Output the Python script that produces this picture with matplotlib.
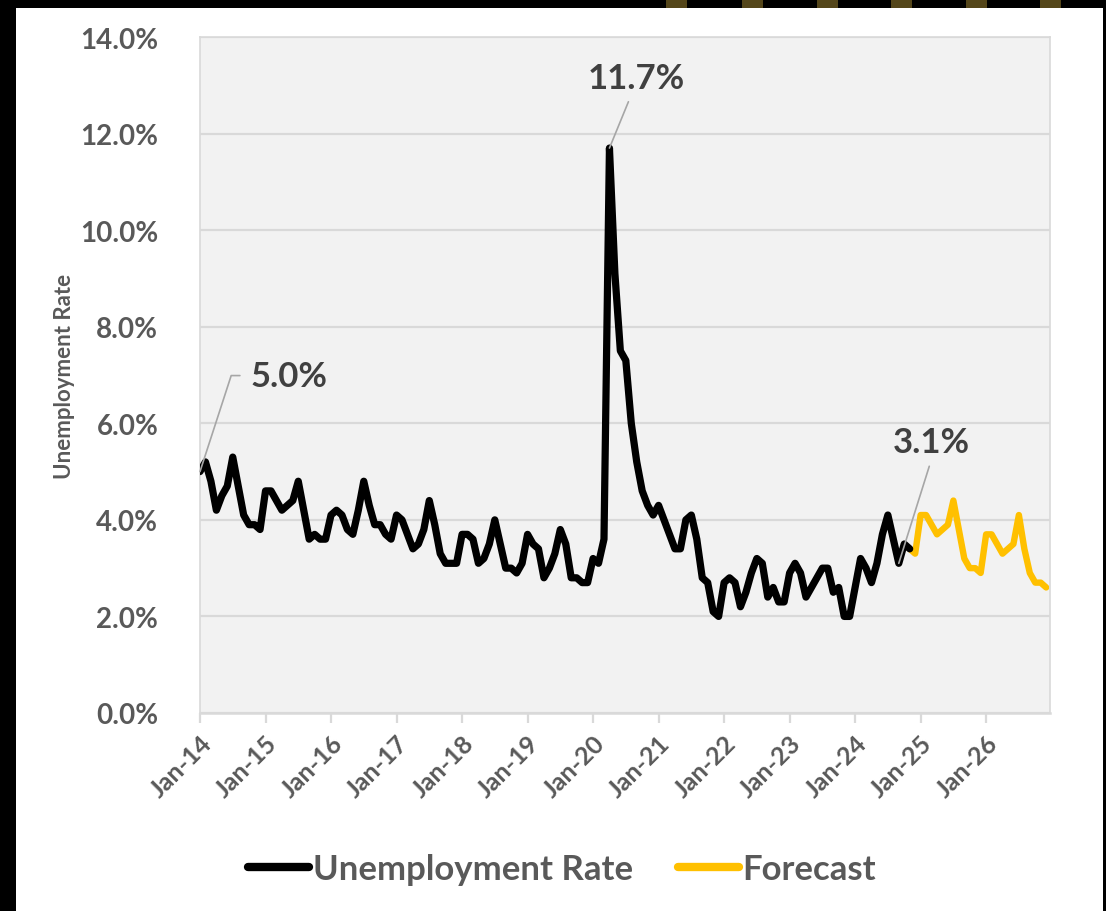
import matplotlib
matplotlib.use("Agg")
import matplotlib.pyplot as plt
from matplotlib.patches import Rectangle
from matplotlib.transforms import ScaledTranslation

plt.rcParams['font.family'] = ['Lato', 'DejaVu Sans']

# ---------------- data ----------------
# monthly unemployment rate, Jan-14 .. Nov-24
actual = [
    5.0, 5.2, 4.8, 4.2, 4.5, 4.7, 5.3, 4.7, 4.1, 3.9, 3.9, 3.8,   # 2014
    4.6, 4.6, 4.4, 4.2, 4.3, 4.4, 4.8, 4.2, 3.6, 3.7, 3.6, 3.6,   # 2015
    4.1, 4.2, 4.1, 3.8, 3.7, 4.2, 4.8, 4.3, 3.9, 3.9, 3.7, 3.6,   # 2016
    4.1, 4.0, 3.7, 3.4, 3.5, 3.8, 4.4, 3.9, 3.3, 3.1, 3.1, 3.1,   # 2017
    3.7, 3.7, 3.6, 3.1, 3.2, 3.5, 4.0, 3.5, 3.0, 3.0, 2.9, 3.1,   # 2018
    3.7, 3.5, 3.4, 2.8, 3.0, 3.3, 3.8, 3.5, 2.8, 2.8, 2.7, 2.7,   # 2019
    3.2, 3.1, 3.6, 11.7, 9.1, 7.5, 7.3, 6.0, 5.2, 4.6, 4.3, 4.1,  # 2020
    4.3, 4.0, 3.7, 3.4, 3.4, 4.0, 4.1, 3.6, 2.8, 2.7, 2.1, 2.0,   # 2021
    2.7, 2.8, 2.7, 2.2, 2.5, 2.9, 3.2, 3.1, 2.4, 2.6, 2.3, 2.3,   # 2022
    2.9, 3.1, 2.9, 2.4, 2.6, 2.8, 3.0, 3.0, 2.5, 2.6, 2.0, 2.0,   # 2023
    2.6, 3.2, 3.0, 2.7, 3.1, 3.7, 4.1, 3.6, 3.1, 3.5, 3.4,        # 2024
]
# forecast, Nov-24 .. Dec-26
forecast_start = 130
forecast = [
    3.4, 3.3,
    4.1, 4.1, 3.9, 3.7, 3.8, 3.9, 4.4, 3.8, 3.2, 3.0, 3.0, 2.9,   # 2025
    3.7, 3.7, 3.5, 3.3, 3.4, 3.5, 4.1, 3.4, 2.9, 2.7, 2.7, 2.6,   # 2026
]
tick_labels = ['Jan-14', 'Jan-15', 'Jan-16', 'Jan-17', 'Jan-18', 'Jan-19', 'Jan-20',
               'Jan-21', 'Jan-22', 'Jan-23', 'Jan-24', 'Jan-25', 'Jan-26']
y_ticks = [0, 2, 4, 6, 8, 10, 12, 14]

x_actual = list(range(len(actual)))
x_fore = list(range(forecast_start, forecast_start + len(forecast)))

# ---------------- figure ----------------
W, H = 1106, 912
fig = plt.figure(figsize=(W / 100, H / 100), dpi=100, facecolor='white')

# screenshot frame (black edges + olive marks at top)
fig.patches.append(Rectangle((0, 0), 16 / W, 1, transform=fig.transFigure,
                             facecolor='black', edgecolor='none', zorder=-5))
fig.patches.append(Rectangle((0, 1 - 9 / H), 1, 9 / H, transform=fig.transFigure,
                             facecolor='black', edgecolor='none', zorder=-5))
fig.patches.append(Rectangle((1103 / W, 0), 3 / W, 1, transform=fig.transFigure,
                             facecolor='black', edgecolor='none', zorder=-5))
for x0 in [666, 742, 817, 891, 966, 1040]:
    fig.patches.append(Rectangle((x0 / W, 1 - 9 / H), 21 / W, 9 / H,
                                 transform=fig.transFigure,
                                 facecolor='#54461a', edgecolor='none', zorder=-4))

ax = fig.add_axes([200 / W, 1 - 714 / H, 850 / W, 676 / H])
ax.set_facecolor('#f2f2f2')

grid_c = '#d9d9d9'
txt_c = '#595959'

ax.plot(x_actual, actual, color='black', lw=5.2, solid_joinstyle='round',
        solid_capstyle='round', label='Unemployment Rate', zorder=3)
ax.plot(x_fore, forecast, color='#FFC000', lw=4.6, solid_joinstyle='round',
        solid_capstyle='round', label='Forecast', zorder=2)

ax.set_xlim(0, 155.7)
ax.set_ylim(0, 14)
ax.set_yticks(y_ticks)
ax.set_yticklabels([f'{v:.1f}%' for v in y_ticks])
ax.set_xticks(list(range(0, 12 * len(tick_labels), 12)))
ax.set_xticklabels(tick_labels, rotation=45, ha='right', va='center',
                   rotation_mode='anchor')

ax.yaxis.grid(True, color=grid_c, lw=1.6)
ax.set_axisbelow(True)
for s in ['top', 'right', 'left']:
    ax.spines[s].set_color(grid_c)
    ax.spines[s].set_linewidth(1.2)
ax.spines['bottom'].set_color(grid_c)
ax.spines['bottom'].set_linewidth(1.8)

ax.tick_params(axis='y', length=0, pad=30, labelsize=20, labelcolor=txt_c)
ax.tick_params(axis='x', length=7, width=1.6, color=grid_c, pad=12,
               labelsize=18, labelcolor=txt_c)
shift = ScaledTranslation(8 / 100, 0, fig.dpi_scale_trans)
for lab in ax.get_xticklabels():
    lab.set_fontweight('bold')
    lab.set_transform(lab.get_transform() + shift)
for lab in ax.get_yticklabels():
    lab.set_fontweight('bold')

ax.set_ylabel('Unemployment Rate', fontsize=16, fontweight='bold', color=txt_c)
ax.yaxis.set_label_coords(-0.147, 0.5)

# ---------------- data labels ----------------
ann_c = '#404040'
lead_c = '#a6a6a6'
# 5.0% at first point
i0 = 0
ax.annotate(f'{actual[i0]:.1f}%', xy=(x_actual[i0], actual[i0]), xycoords='data',
            xytext=(51, 96), textcoords='offset pixels', ha='left', va='center',
            fontsize=25, fontweight='bold', color=ann_c,
            arrowprops=dict(arrowstyle='-', color=lead_c, lw=1.2, relpos=(0, 0.5),
                            patchA=None, shrinkA=8, shrinkB=0,
                            connectionstyle='angle,angleA=0,angleB=72'))
# peak
ip = actual.index(max(actual))
ax.annotate(f'{actual[ip]:.1f}%', xy=(x_actual[ip], actual[ip]), xycoords='data',
            xytext=(27, 70), textcoords='offset pixels', ha='center', va='center',
            fontsize=25, fontweight='bold', color=ann_c,
            arrowprops=dict(arrowstyle='-', color=lead_c, lw=1.2, relpos=(0.45, 0),
                            patchA=None, shrinkA=6, shrinkB=0))
# latest low (Sep-24)
il = 128
ax.annotate(f'{actual[il]:.1f}%', xy=(x_actual[il], actual[il]), xycoords='data',
            xytext=(33, 121), textcoords='offset pixels', ha='center', va='center',
            fontsize=25, fontweight='bold', color=ann_c,
            arrowprops=dict(arrowstyle='-', color=lead_c, lw=1.2, relpos=(0.5, 0),
                            patchA=None, shrinkA=6, shrinkB=0))

# ---------------- legend ----------------
leg = fig.legend(loc='center', bbox_to_anchor=(562 / W, 1 - 870 / H), ncol=2,
                 frameon=False,
                 prop=dict(family=['Lato', 'DejaVu Sans'], weight='bold', size=25),
                 labelcolor=txt_c, handlelength=1.75, handletextpad=0.1,
                 columnspacing=1.3)
for h in leg.get_lines():
    h.set_linewidth(6)

fig.savefig('out.png', dpi=100, facecolor='white')
